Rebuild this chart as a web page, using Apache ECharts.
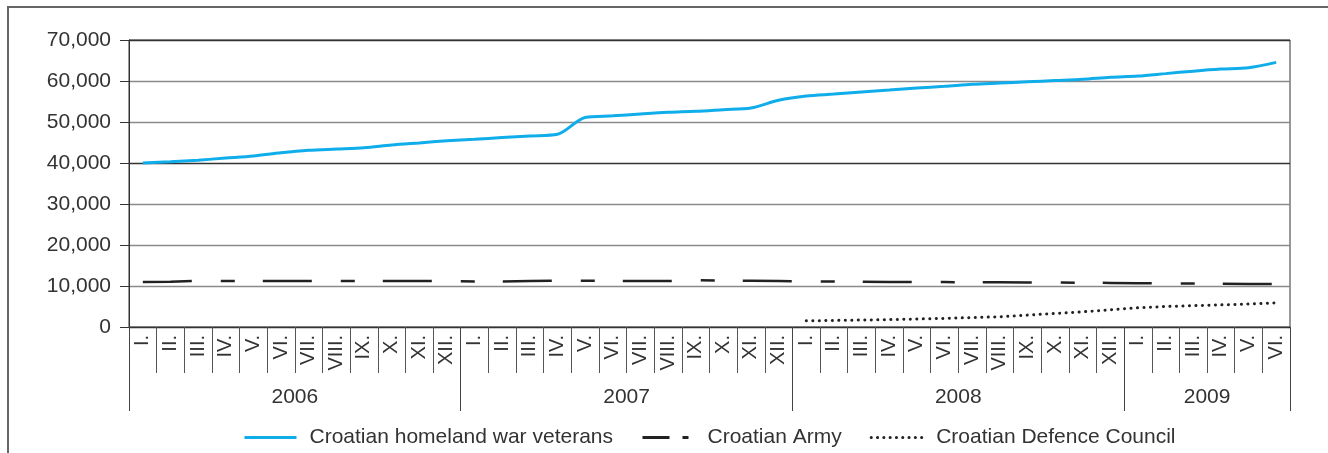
<!DOCTYPE html>
<html><head><meta charset="utf-8">
<script src="https://cdn.jsdelivr.net/npm/echarts@6/dist/echarts.min.js"></script>
<style>html,body{margin:0;padding:0;background:#fff}#c{width:1328px;height:453px}</style>
</head><body><div id="c"></div>
<script>
// ---- data ----
const years = ['2006', '2007', '2008', '2009'];
const monthsPerYear = [12, 12, 12, 6];
const monthLabels = ['I.', 'II.', 'III.', 'IV.', 'V.', 'VI.', 'VII.', 'VIII.', 'IX.', 'X.', 'XI.', 'XII.'];
const yTicks = [0, 10000, 20000, 30000, 40000, 50000, 60000, 70000];
const veterans = [40000, 40300, 40700, 41200, 41700, 42500, 43100, 43400, 43700, 44400, 44900, 45400,
                  45800, 46200, 46600, 47000, 51100, 51500, 51950, 52350, 52600, 53000, 53400, 55300,
                  56350, 56800, 57300, 57800, 58300, 58700, 59200, 59500, 59800, 60100, 60400, 60900,
                  61200, 61800, 62400, 62900, 63250, 64550];
const army = [11000, 11050, 11300, 11200, 11200, 11200, 11200, 11200, 11200, 11200, 11200, 11200,
              11100, 11100, 11200, 11300, 11300, 11200, 11200, 11200, 11400, 11300, 11300, 11200,
              11100, 11100, 11050, 11000, 11000, 10950, 10900, 10900, 10850, 10850, 10800, 10750,
              10700, 10650, 10600, 10550, 10500, 10500];
const defence = [null, null, null, null, null, null, null, null, null, null, null, null,
                 null, null, null, null, null, null, null, null, null, null, null, null,
                 1500, 1600, 1700, 1800, 1950, 2100, 2300, 2500, 2900, 3300, 3700, 4200,
                 4700, 5000, 5200, 5400, 5600, 5900];
const seriesNames = ['Croatian homeland war veterans', 'Croatian Army', 'Croatian Defence Council'];

// ---- build ----
const categories = [];
const yearStarts = [];
const yearLabelIdx = [];
years.forEach((y, k) => {
  yearStarts.push(categories.length);
  yearLabelIdx.push(categories.length + monthsPerYear[k] / 2);
  for (let m = 0; m < monthsPerYear[k]; m++) categories.push(y + '|' + monthLabels[m]);
});

const W = 1328, gridLeft = 129, gridRight = 38;
const band = (W - gridLeft - gridRight) / categories.length;
const FONT = '"Liberation Sans", Arial, Helvetica, sans-serif';
const TXT = '#333';
const hideSym = { opacity: 0, borderWidth: 0 };

const chart = echarts.init(document.getElementById('c'));
chart.setOption({
  animation: false,
  textStyle: { fontFamily: FONT },
  graphic: [{
    type: 'rect', silent: true, z: -1,
    shape: { x: 8, y: 7, width: 1400, height: 500 },
    style: { fill: 'none', stroke: '#666', lineWidth: 2 }
  }],
  grid: { left: gridLeft, right: gridRight, top: 40, bottom: 126, show: true, borderColor: '#333', borderWidth: 1, backgroundColor: 'transparent' },
  legend: {
    left: 243, top: 427, padding: 0, itemWidth: 52, itemHeight: 20, itemGap: 28,
    itemStyle: hideSym,
    lineStyle: { width: 3 },
    textStyle: { fontSize: 21, color: TXT, fontFamily: FONT, padding: [0, 0, 0, 8], lineHeight: 20 },
    data: [
      { name: seriesNames[0], itemStyle: hideSym, lineStyle: { width: 3 } },
      { name: seriesNames[1], itemStyle: hideSym, lineStyle: { width: 3, type: [27, 13, 6, 6] } },
      { name: seriesNames[2], itemStyle: hideSym, lineStyle: { width: 3, type: [0.1, 6.2], cap: 'round' } }
    ]
  },
  xAxis: [{
    type: 'category', data: categories, boundaryGap: true, position: 'bottom',
    axisLine: { lineStyle: { color: '#333', width: 1 } },
    axisTick: { show: true, interval: 0, length: 46, lineStyle: { color: '#555' } },
    axisLabel: { interval: 0, rotate: 90, margin: 8, fontSize: 20, color: TXT, fontFamily: FONT,
      formatter: v => v.split('|')[1] },
    splitLine: { show: false }
  }, {
    type: 'category', data: categories, boundaryGap: true, position: 'bottom',
    axisLine: { show: false },
    axisTick: { show: true, length: 84, interval: i => yearStarts.includes(i), lineStyle: { color: '#444' } },
    axisLabel: { interval: i => yearLabelIdx.includes(i), margin: 60, fontSize: 21, color: TXT, fontFamily: FONT,
      padding: [0, band, 0, 0], formatter: v => v.split('|')[0] },
    splitLine: { show: false }
  }],
  yAxis: {
    type: 'value', min: yTicks[0], max: yTicks[yTicks.length - 1], interval: yTicks[1] - yTicks[0],
    axisLine: { show: true, lineStyle: { color: '#333' } },
    axisTick: { show: true, length: 9, lineStyle: { color: '#333' } },
    axisLabel: { margin: 18, fontSize: 21, color: TXT, fontFamily: FONT, padding: [3, 0, 0, 0],
      formatter: v => v.toLocaleString('en-US') },
    splitLine: { show: true, lineStyle: { color: ['#333', '#8a8a8a', '#8a8a8a', '#8a8a8a', '#333', '#8a8a8a', '#8a8a8a', '#333'], width: 1.4 } }
  },
  series: [{
    name: seriesNames[0], type: 'line', data: veterans, symbol: 'none', smooth: 0.3,
    lineStyle: { color: '#0fadea', width: 3 }, itemStyle: { color: '#0fadea' }, z: 4
  }, {
    name: seriesNames[1], type: 'line', data: army, symbol: 'none',
    lineStyle: { color: '#222', width: 2.5, type: [49, 29, 14, 28] }, itemStyle: { color: '#222' }, z: 3
  }, {
    name: seriesNames[2], type: 'line', data: defence, symbol: 'none', connectNulls: false,
    lineStyle: { color: '#222', width: 3, type: [0.1, 6.4], cap: 'round' }, itemStyle: { color: '#222' }, z: 3
  }]
});
</script></body></html>
